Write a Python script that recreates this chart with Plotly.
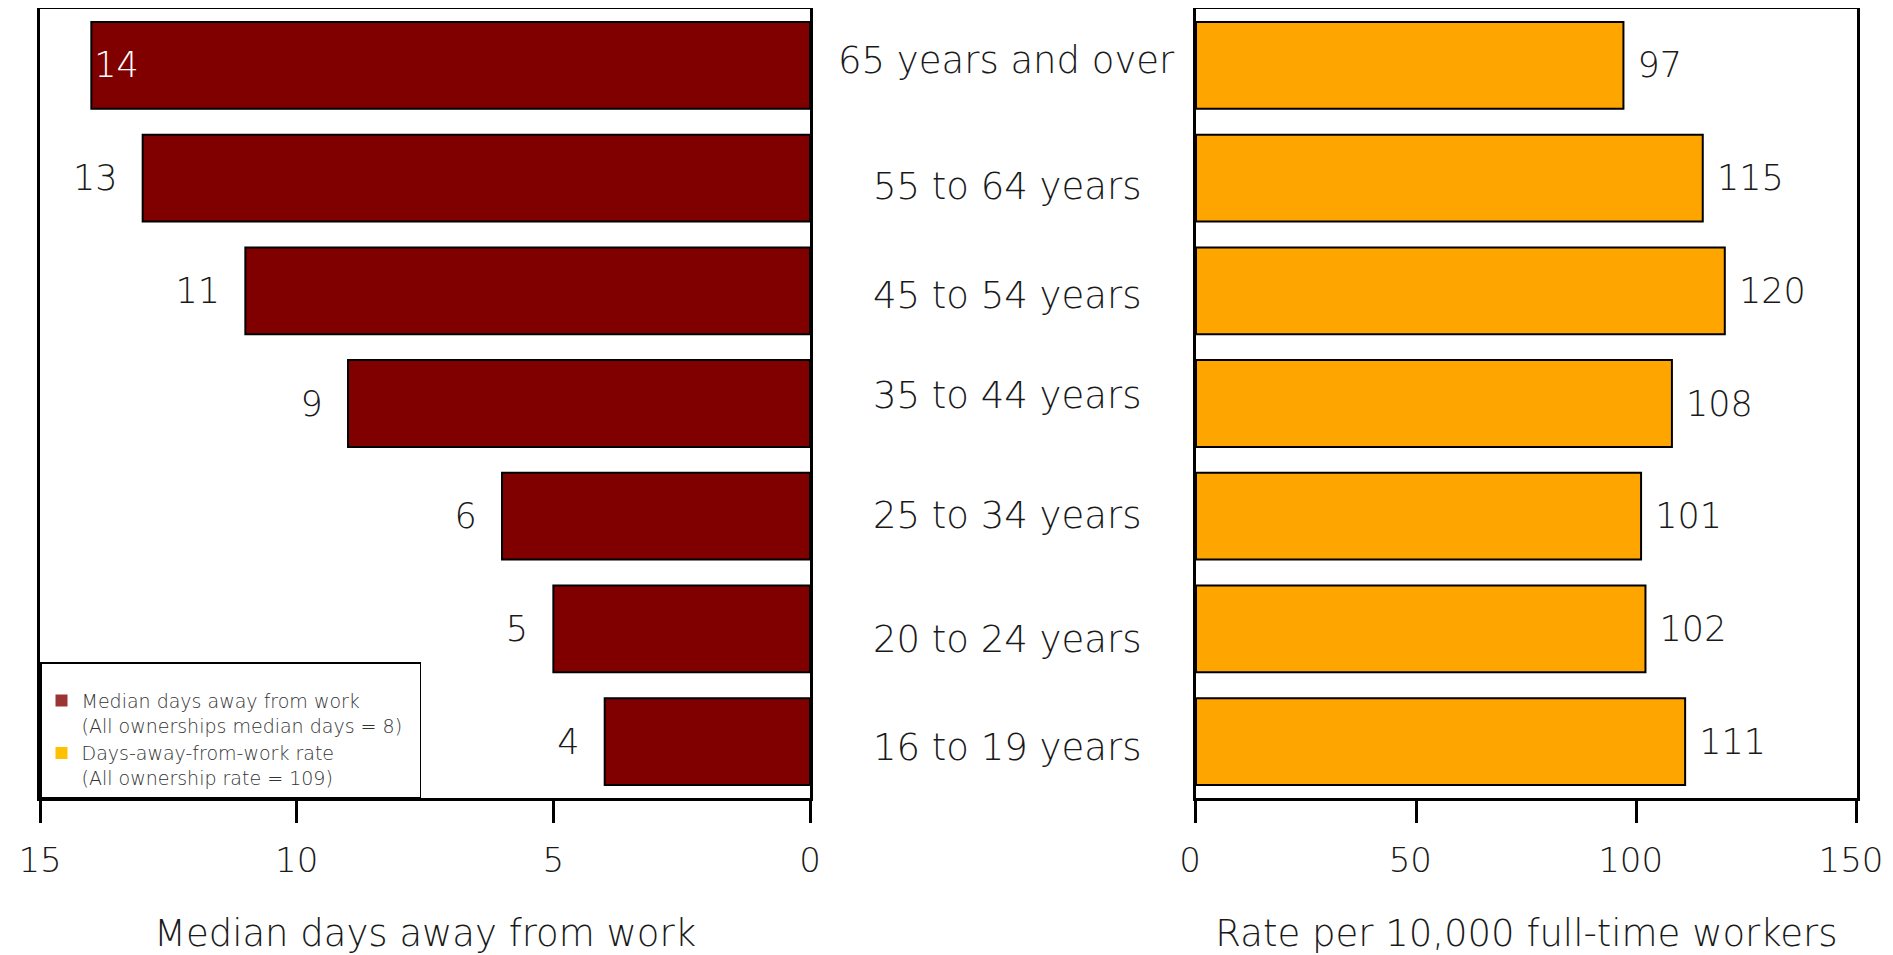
import plotly.graph_objects as go

categories = ["16 to 19 years", "20 to 24 years", "25 to 34 years", "35 to 44 years",
              "45 to 54 years", "55 to 64 years", "65 years and over"]
median_days = [4, 5, 6, 9, 11, 13, 14]
rates = [111, 102, 101, 108, 120, 115, 97]

left_ticks = [15, 10, 5, 0]
right_ticks = [0, 50, 100, 150]

legend_names = ["Median days away from work<br>(All ownerships median days = 8)\u00a0\u00a0",
                "Days-away-from-work rate<br>(All ownership rate = 109)"]

FONT = "DejaVu Sans"
W = 200
TXT = "#1a1a1a"
NB = "\u00a0"

left_pos = ["inside" if v >= 14 else "outside" for v in median_days]
left_text = [str(v) if v >= 14 else f"{v}{NB*2}" for v in median_days]
left_colors = ["white" if v >= 14 else TXT for v in median_days]

fig = go.Figure()
fig.add_trace(go.Bar(
    y=categories, x=median_days, orientation="h", xaxis="x", yaxis="y",
    marker=dict(color="#800000", line=dict(color="black", width=2)),
    width=0.77, text=left_text, textposition=left_pos, insidetextanchor="end",
    textfont=dict(size=35, color=left_colors, family=FONT, weight=W),
    constraintext="none", cliponaxis=False, showlegend=False, hoverinfo="x+y"))
fig.add_trace(go.Bar(
    y=categories, x=rates, orientation="h", xaxis="x2", yaxis="y2",
    marker=dict(color="#FFA500", line=dict(color="black", width=2)),
    width=0.77, text=[f"{NB}{v}" for v in rates], textposition="outside",
    textfont=dict(size=35, color=TXT, family=FONT, weight=W),
    constraintext="none", cliponaxis=False, showlegend=False, hoverinfo="x+y"))

for name, col in zip(legend_names, ["#9B3434", "#FFC000"]):
    fig.add_trace(go.Scatter(x=[None], y=[None], mode="markers", xaxis="x", yaxis="y",
                             marker=dict(symbol="square", size=12, color=col), name=name))

axis_common = dict(showline=True, linecolor="black", linewidth=2.5, mirror=True,
                   ticks="outside", ticklen=22, tickwidth=2.5, tickcolor="black",
                   showgrid=False, zeroline=False, automargin=False,
                   tickfont=dict(size=34, color=TXT, family=FONT, weight=W),
                   ticklabelstandoff=8, ticklabeloverflow="allow")

title_font = dict(size=37, color=TXT, family=FONT, weight=W)

fig.update_layout(
    width=1885, height=947,
    margin=dict(l=32, r=36, t=1, b=157),
    plot_bgcolor="white", paper_bgcolor="white",
    font=dict(family=FONT, color=TXT),
    xaxis=dict(domain=[0, 0.4238], range=[15, 0], tickvals=left_ticks,
               title=dict(text="Median days away from work", standoff=48, font=title_font),
               **axis_common),
    xaxis2=dict(domain=[0.6362, 1.0], range=[0, 150], tickvals=right_ticks, anchor="y2",
                ticklabelshift=-6,
                title=dict(text="Rate per 10,000 full-time workers", standoff=48, font=title_font),
                **axis_common),
    yaxis=dict(domain=[0, 1], range=[-0.5, 6.5], categoryorder="array", categoryarray=categories,
               showticklabels=False, ticks="", showline=True, linecolor="black", linewidth=2.5,
               mirror=True, showgrid=False, zeroline=False),
    yaxis2=dict(domain=[0, 1], range=[-0.5, 6.5], categoryorder="array", categoryarray=categories,
                anchor="x2", showticklabels=False, ticks="", showline=True, linecolor="black",
                linewidth=2.5, mirror=True, showgrid=False, zeroline=False),
    legend=dict(x=0, y=0, xanchor="left", yanchor="bottom", bgcolor="white",
                bordercolor="black", borderwidth=1.5, valign="top",
                font=dict(size=19, color="#333333", family=FONT, weight=W),
                title=dict(text=" ", font=dict(size=14)), itemwidth=30),
)

label_yshift = [-6, -11, 1, 8, -5, -8, 5]
for cat, ys in zip(categories, label_yshift):
    fig.add_annotation(x=0.532, xref="paper", y=cat, yref="y", text=cat, showarrow=False,
                       xanchor="center", yanchor="middle", yshift=ys,
                       font=dict(size=37, color=TXT, family=FONT, weight=W))

fig.write_html("out.html")
